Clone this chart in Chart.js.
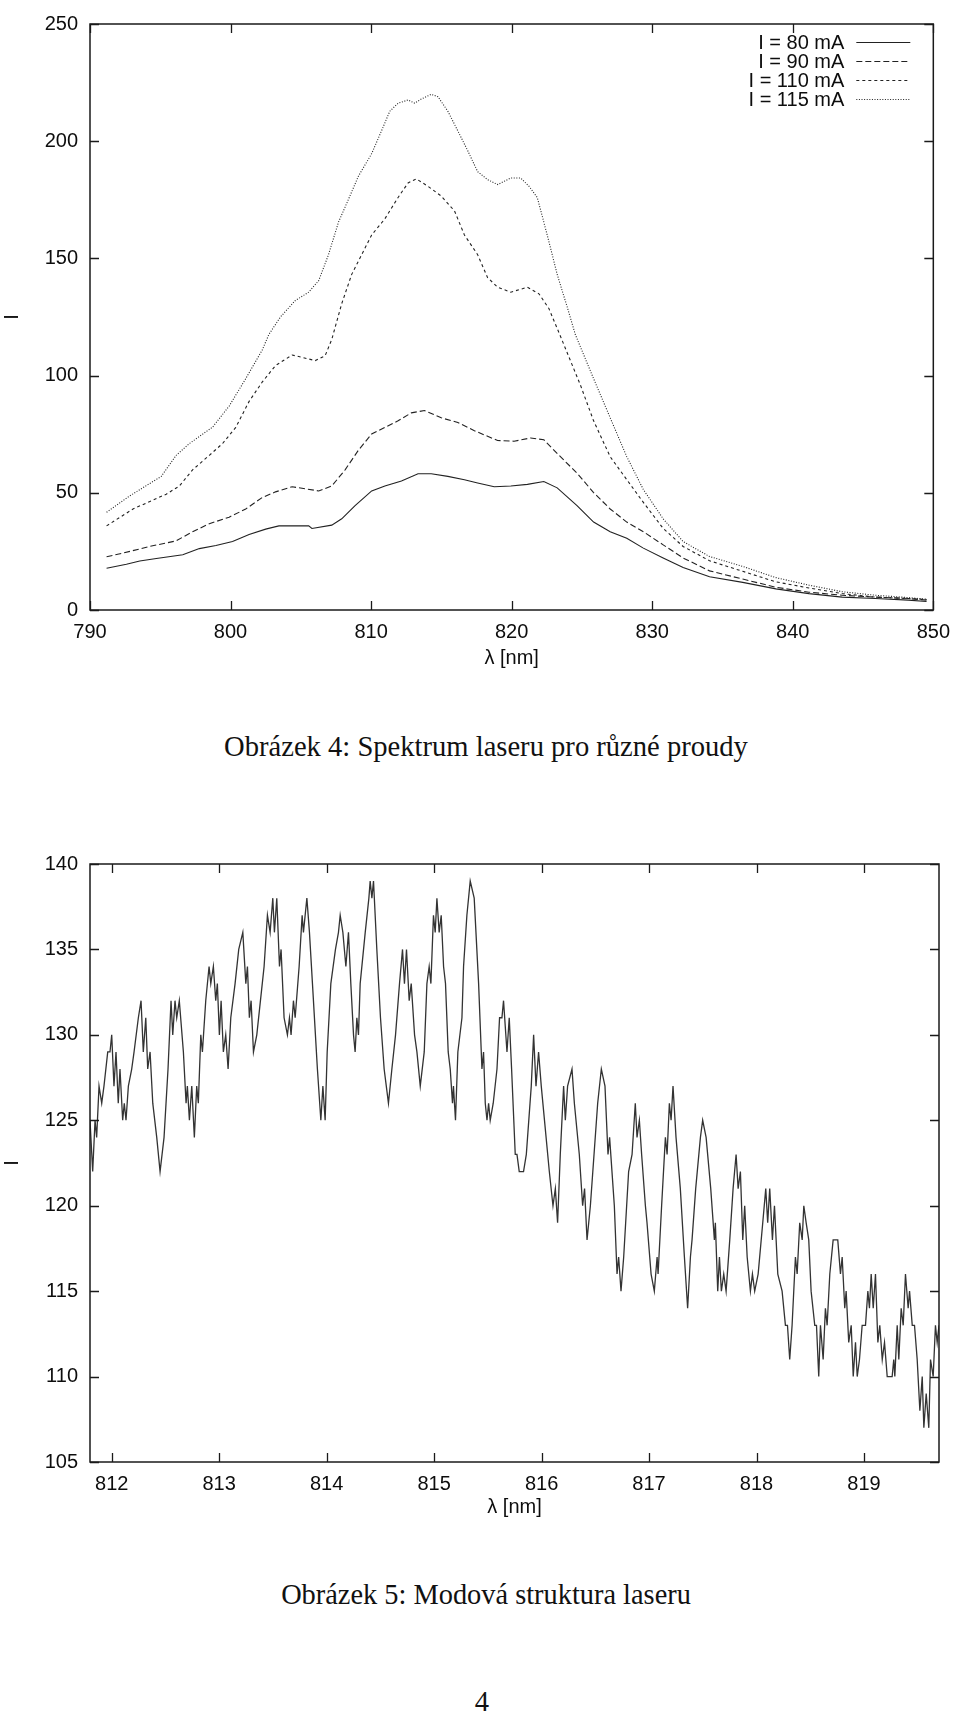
<!DOCTYPE html>
<html>
<head>
<meta charset="utf-8">
<script src="https://cdn.jsdelivr.net/npm/chart.js@4.4.1/dist/chart.umd.min.js"></script>
<style>
html,body{margin:0;padding:0;background:#fff;}
body{width:960px;height:1715px;position:relative;overflow:hidden;}
.cv{position:absolute;left:0;}
#w1{top:0;}
#w2{top:840px;}
.cap{position:absolute;left:0;top:0;white-space:nowrap;line-height:1;font-family:"Liberation Serif","DejaVu Serif",serif;color:#111;}
</style>
</head>
<body>
<div class="cv" id="w1"><canvas id="c1" width="960" height="680"></canvas></div>
<div class="cv" id="w2"><canvas id="c2" width="960" height="690"></canvas></div>
<div class="cap" id="cap4">Obrázek 4: Spektrum laseru pro různé proudy</div>
<div class="cap" id="cap5">Obrázek 5: Modová struktura laseru</div>
<div class="cap" id="pg">4</div>
<script>
// ---------- Figure 4 data: spectrum for different currents ----------
const seriesLabels = ['I = 80 mA', 'I = 90 mA', 'I = 110 mA', 'I = 115 mA'];

const wl80 = [791.18, 792.59, 793.54, 794.72, 796.60, 797.78, 798.96, 800.14, 801.32, 802.50, 803.44, 805.56, 805.79, 807.20, 807.91, 808.86, 810.04, 810.98, 812.16, 813.34, 814.28, 815.46, 816.64, 817.58, 818.76, 819.94, 821.12, 822.29, 823.24, 824.65, 825.83, 827.01, 828.19, 829.37, 830.78, 832.20, 834.08, 836.44, 838.80, 841.15, 843.51, 845.87, 848.22, 849.52];
const i80 = [17.8, 19.5, 20.9, 22, 23.6, 26.2, 27.5, 29.2, 32.2, 34.5, 35.9, 35.9, 34.8, 36.2, 38.9, 44.5, 50.8, 52.9, 55, 58.1, 58.1, 57, 55.6, 54.2, 52.6, 52.9, 53.6, 54.8, 52.1, 44.5, 37.5, 33.4, 30.6, 26.4, 22.2, 18.1, 14.2, 11.8, 9, 7, 5.5, 4.9, 4.2, 3.6];

const wl90 = [791.18, 792.36, 794.24, 796.13, 797.30, 798.49, 799.90, 801.08, 802.26, 803.20, 804.38, 805.32, 806.27, 807.20, 808.15, 809.09, 810.04, 810.98, 811.92, 812.86, 813.80, 814.99, 816.17, 817.35, 819.00, 820.17, 821.35, 822.29, 823.47, 824.65, 825.83, 827.01, 828.19, 829.37, 830.78, 832.20, 834.08, 836.44, 838.80, 841.15, 843.51, 845.87, 848.22, 849.52];
const i90 = [22.7, 24.3, 27.1, 29.5, 33.4, 36.8, 39.6, 43.1, 48, 50.4, 52.6, 51.7, 50.8, 52.9, 59.8, 68.1, 75.1, 77.9, 80.7, 84.1, 85.1, 82, 80, 76.5, 72.3, 72, 73.4, 72.6, 65.4, 58.4, 50.1, 43.1, 37.5, 33.4, 27.8, 22.2, 16.7, 13.2, 9.7, 7.6, 6.3, 5.5, 4.9, 4.2];

const wl110 = [791.18, 793.06, 795.42, 796.36, 797.30, 798.49, 799.43, 800.37, 801.32, 802.26, 803.20, 804.38, 805.08, 806.03, 806.73, 807.20, 807.91, 808.62, 809.33, 810.04, 810.98, 811.92, 812.63, 813.22, 814.04, 814.99, 815.93, 816.64, 817.58, 818.29, 819.00, 819.94, 821.12, 821.94, 822.65, 823.47, 824.89, 825.83, 827.01, 828.19, 829.37, 830.78, 832.20, 834.08, 836.44, 838.80, 841.15, 843.51, 845.87, 848.22, 849.52];
const i110 = [35.9, 43.1, 49.4, 52.9, 59.8, 66, 71, 77.9, 89, 97.3, 104.3, 108.8, 107.8, 106.4, 108.5, 115.4, 130.7, 143.2, 151.6, 160, 166.9, 176, 182.2, 183.9, 180.8, 176.6, 170.3, 160, 151.6, 141.8, 137.7, 135.6, 137.7, 134.9, 128.6, 116.8, 96, 80.7, 65.4, 55.6, 45.9, 34.8, 27.1, 21, 16.5, 12, 9.4, 7, 5.5, 4.9, 4.5];

const wl115 = [791.18, 792.83, 795.07, 796.13, 797.07, 798.72, 799.90, 801.08, 802.26, 802.73, 803.55, 804.60, 805.56, 806.27, 806.97, 807.68, 808.39, 809.09, 810.04, 810.74, 811.33, 811.92, 812.63, 813.10, 813.57, 814.28, 814.75, 815.46, 816.17, 816.87, 817.58, 818.29, 819.00, 819.94, 820.64, 821.23, 821.82, 822.53, 823.24, 823.95, 824.53, 825.83, 827.01, 828.19, 829.37, 830.78, 832.20, 834.08, 836.44, 838.80, 841.15, 843.51, 845.87, 848.22, 849.52];
const i115 = [41.7, 48.7, 57, 66, 71, 78, 87, 98.7, 111, 117.6, 125, 132, 135.6, 140.5, 151.6, 165.5, 175.2, 185, 194.7, 204.4, 212.8, 216.2, 217.6, 216.2, 218, 220, 219, 212.8, 204.4, 196, 187, 183.6, 181.5, 184.3, 184.3, 180.8, 176, 160, 143.2, 129.3, 117.5, 98.7, 82, 65.4, 51.4, 38.9, 29.2, 22.8, 18.6, 13.8, 10.6, 7.8, 6.3, 5.3, 4.6];

const specTicksX = [790, 800, 810, 820, 830, 840, 850];
const specTicksY = [0, 50, 100, 150, 200, 250];

// ---------- Figure 5 data: mode structure ----------
const modeWavelength = [
811.798, 811.823, 811.845, 811.860, 811.882, 811.907, 811.928, 811.963, 811.984, 812.000,
812.021, 812.040, 812.061, 812.077, 812.102, 812.117, 812.133, 812.155, 812.186, 812.208,
812.248, 812.273, 812.294, 812.317, 812.335, 812.357, 812.382, 812.419, 812.450, 812.487,
812.524, 812.552, 812.568, 812.589, 812.605, 812.629, 812.667, 812.692, 812.704, 812.723,
812.745, 812.769, 812.791, 812.806, 812.829, 812.844, 812.875, 812.906, 812.922, 812.946,
812.968, 812.983, 813.002, 813.018, 813.039, 813.061, 813.083, 813.108, 813.148, 813.182,
813.220, 813.248, 813.263, 813.281, 813.297, 813.319, 813.350, 813.384, 813.418, 813.449,
813.474, 813.499, 813.514, 813.536, 813.561, 813.576, 813.604, 813.635, 813.654, 813.669,
813.691, 813.707, 813.744, 813.772, 813.784, 813.816, 813.840, 813.868, 813.914, 813.946,
813.965, 813.986, 814.005, 814.039, 814.082, 814.110, 814.126, 814.151, 814.179, 814.203,
814.225, 814.250, 814.265, 814.281, 814.296, 814.312, 814.359, 814.393, 814.405, 814.421,
814.436, 814.467, 814.501, 814.535, 814.575, 814.607, 814.641, 814.678, 814.706, 814.724,
814.743, 814.768, 814.787, 814.818, 814.840, 814.871, 814.908, 814.933, 814.954, 814.970,
814.994, 815.010, 815.026, 815.047, 815.066, 815.088, 815.106, 815.131, 815.150, 815.171,
815.180, 815.199, 815.221, 815.259, 815.274, 815.305, 815.336, 815.373, 815.414, 815.445,
815.460, 815.476, 815.492, 815.507, 815.522, 815.550, 815.585, 815.609, 815.631, 815.646,
815.678, 815.699, 815.721, 815.755, 815.771, 815.792, 815.832, 815.858, 815.904, 815.926,
815.948, 815.972, 815.997, 816.072, 816.106, 816.128, 816.149, 816.174, 816.205, 816.221,
816.242, 816.283, 816.305, 816.351, 816.382, 816.400, 816.423, 816.454, 816.522, 816.556,
816.590, 816.618, 816.633, 816.677, 816.702, 816.717, 816.739, 816.764, 816.810, 816.842,
816.872, 816.888, 816.910, 816.931, 816.966, 816.981, 817.019, 817.049, 817.075, 817.084,
817.117, 817.152, 817.168, 817.189, 817.205, 817.223, 817.251, 817.291, 817.329, 817.359,
817.385, 817.400, 817.434, 817.478, 817.499, 817.531, 817.574, 817.608, 817.617, 817.639,
817.655, 817.673, 817.695, 817.717, 817.751, 817.782, 817.810, 817.829, 817.850, 817.872,
817.890, 817.913, 817.943, 817.962, 817.983, 818.015, 818.058, 818.086, 818.104, 818.123,
818.148, 818.167, 818.198, 818.238, 818.269, 818.288, 818.309, 818.331, 818.362, 818.378,
818.402, 818.425, 818.440, 818.462, 818.486, 818.508, 818.542, 818.558, 818.579, 818.595,
818.620, 818.641, 818.657, 818.682, 818.713, 818.756, 818.781, 818.797, 818.821, 818.834,
818.858, 818.881, 818.900, 818.921, 818.937, 818.958, 818.983, 819.014, 819.036, 819.051,
819.067, 819.086, 819.107, 819.129, 819.147, 819.170, 819.191, 819.216, 819.262, 819.277,
819.287, 819.309, 819.324, 819.346, 819.365, 819.386, 819.411, 819.424, 819.449, 819.470,
819.495, 819.520, 819.542, 819.557, 819.579, 819.603, 819.619, 819.644, 819.665, 819.681,
819.698];
const modeIntensity = [
125, 122, 125, 124, 127, 126, 127, 129, 129, 130,
127, 129, 126, 128, 125, 126, 125, 127, 128, 129,
131, 132, 129, 131, 128, 129, 126, 124, 122, 124,
128, 132, 130, 132, 131, 132, 129, 126, 127, 125,
127, 124, 127, 126, 130, 129, 132, 134, 133, 134,
132, 133, 130, 132, 129, 130, 128, 131, 133, 135,
136, 133, 134, 131, 132, 129, 130, 132, 134, 137,
136, 138, 136, 138, 134, 135, 131, 130, 131, 130,
132, 131, 134, 137, 136, 138, 136, 133, 128, 125,
127, 125, 129, 133, 135, 136, 137, 136, 134, 136,
133, 130, 129, 131, 130, 133, 136, 138, 139, 138,
139, 135, 131, 128, 126, 128, 130, 133, 135, 133,
135, 132, 133, 130, 129, 127, 129, 133, 134, 133,
137, 136, 138, 136, 137, 134, 133, 129, 128, 126,
127, 125, 129, 131, 134, 137, 139, 138, 133, 128,
129, 126, 125, 126, 125, 126, 128, 131, 131, 132,
129, 131, 128, 123, 123, 122, 122, 123, 127, 130,
127, 129, 127, 122, 120, 121, 119, 123, 127, 125,
127, 128, 126, 123, 120, 121, 118, 120, 126, 128,
127, 123, 124, 120, 116, 117, 115, 117, 122, 123,
126, 124, 125, 123, 120, 119, 116, 115, 117, 116,
120, 124, 123, 126, 125, 127, 124, 121, 117, 114,
117, 118, 121, 124, 125, 124, 121, 118, 119, 115,
117, 115, 116, 115, 118, 121, 123, 121, 122, 118,
120, 117, 115, 116, 115, 116, 119, 121, 119, 121,
118, 120, 116, 115, 113, 113, 111, 113, 117, 116,
119, 118, 120, 119, 118, 115, 113, 113, 110, 113,
111, 114, 113, 116, 118, 118, 116, 117, 114, 115,
112, 113, 110, 112, 110, 111, 113, 113, 115, 114,
116, 114, 116, 112, 113, 111, 112, 110, 110, 111,
110, 113, 111, 114, 113, 116, 114, 115, 113, 113,
111, 108, 110, 107, 109, 107, 111, 110, 113, 112,
113];
const modeTicksX = [812, 813, 814, 815, 816, 817, 818, 819];
const modeTicksY = [105, 110, 115, 120, 125, 130, 135, 140];

// ---------- helpers ----------
const SANS = '"Liberation Sans", Arial, Helvetica, sans-serif';
const INK = '#0d0d0d';
const FS = 20;
const zip = (xs, ys) => xs.map((x, i) => ({x: x, y: ys[i]}));

const framePlugin = {
  id: 'gpFrame',
  afterDatasetsDraw(chart) {
    const {ctx, chartArea: a, scales} = chart;
    ctx.save();
    ctx.strokeStyle = '#1a1a1a';
    ctx.lineWidth = 1.5;
    ctx.strokeRect(a.left, a.top, a.right - a.left, a.bottom - a.top);
    const L = 9;
    ctx.lineWidth = 1.3;
    ctx.beginPath();
    scales.x.ticks.forEach(t => {
      const px = Math.round(scales.x.getPixelForValue(t.value)) + 0.5;
      ctx.moveTo(px, a.bottom); ctx.lineTo(px, a.bottom - L);
      ctx.moveTo(px, a.top); ctx.lineTo(px, a.top + L);
    });
    scales.y.ticks.forEach(t => {
      const py = Math.round(scales.y.getPixelForValue(t.value)) + 0.5;
      ctx.moveTo(a.left, py); ctx.lineTo(a.left + L, py);
      ctx.moveTo(a.right, py); ctx.lineTo(a.right - L, py);
    });
    ctx.stroke();
    ctx.restore();
  }
};

const legendPlugin = {
  id: 'gpLegend',
  afterDatasetsDraw(chart) {
    const {ctx, chartArea: a} = chart;
    ctx.save();
    ctx.font = FS + 'px ' + SANS;
    ctx.fillStyle = INK;
    ctx.textAlign = 'right';
    ctx.textBaseline = 'middle';
    chart.data.datasets.forEach((ds, i) => {
      const y = a.top + 18 + i * 19;
      ctx.fillText(ds.label, a.right - 89, y + 1);
      ctx.strokeStyle = ds.borderColor;
      ctx.lineWidth = ds.borderWidth;
      ctx.setLineDash(ds.borderDash || []);
      ctx.beginPath();
      ctx.moveTo(a.right - 77, Math.round(y) + 0.5);
      ctx.lineTo(a.right - 23, Math.round(y) + 0.5);
      ctx.stroke();
    });
    ctx.restore();
  }
};

function axis(min, max, tickVals, titleText, isX, fixed) {
  const cfg = {
    type: 'linear',
    min: min, max: max,
    afterBuildTicks: s => { s.ticks = tickVals.map(v => ({value: v})); },
    ticks: {
      color: INK, padding: isX ? 10 : 12, maxRotation: 0, autoSkip: false,
      font: {family: SANS, size: FS}
    },
    grid: {display: false, drawTicks: false},
    border: {display: false},
    title: {display: true, text: titleText, color: INK, padding: 0, font: {family: SANS, size: FS}}
  };
  if (isX) cfg.afterFit = s => { s.height = fixed; };
  else cfg.afterFit = s => { s.width = fixed; };
  return cfg;
}

// ---------- Figure 4 chart ----------
new Chart(document.getElementById('c1'), {
  type: 'line',
  data: {
    datasets: [
      {label: seriesLabels[0], data: zip(wl80, i80), borderColor: '#222', borderWidth: 1.1, borderDash: []},
      {label: seriesLabels[1], data: zip(wl90, i90), borderColor: '#222', borderWidth: 1.1, borderDash: [6, 3]},
      {label: seriesLabels[2], data: zip(wl110, i110), borderColor: '#222', borderWidth: 1.1, borderDash: [3, 3]},
      {label: seriesLabels[3], data: zip(wl115, i115), borderColor: '#222', borderWidth: 1.1, borderDash: [1, 1.6]}
    ]
  },
  options: {
    responsive: false, animation: false, devicePixelRatio: 1,
    elements: {point: {radius: 0}, line: {tension: 0}},
    layout: {padding: {left: 0, right: 21, top: 11, bottom: 10}},
    plugins: {legend: {display: false}, tooltip: {enabled: false}},
    scales: {
      x: axis(790, 850, specTicksX, 'λ [nm]', true, 60),
      y: axis(0, 250, specTicksY, 'I', false, 90)
    }
  },
  plugins: [framePlugin, legendPlugin]
});

// ---------- Figure 5 chart ----------
new Chart(document.getElementById('c2'), {
  type: 'line',
  data: {
    datasets: [
      {label: 'I', data: zip(modeWavelength, modeIntensity), borderColor: '#333', borderWidth: 1.3}
    ]
  },
  options: {
    responsive: false, animation: false, devicePixelRatio: 1,
    elements: {point: {radius: 0}, line: {tension: 0}},
    layout: {padding: {left: 0, right: 21, top: 21, bottom: 11}},
    plugins: {legend: {display: false}, tooltip: {enabled: false}},
    scales: {
      x: axis(811.798, 819.698, modeTicksX, 'λ [nm]', true, 57),
      y: axis(105, 140, modeTicksY, 'I', false, 90)
    }
  },
  plugins: [framePlugin]
});

// ---------- captions (LaTeX-like) ----------
function placeText(id, centerX, baseline, targetWidth, size) {
  const el = document.getElementById(id);
  const m = document.createElement('canvas').getContext('2d');
  let s = size;
  if (targetWidth) {
    m.font = '100px "Liberation Serif"';
    s = 100 * targetWidth / m.measureText(el.textContent).width;
  }
  el.style.fontSize = s + 'px';
  const w = el.getBoundingClientRect().width;
  el.style.left = (centerX - w / 2) + 'px';
  el.style.top = (baseline - 0.8375 * s) + 'px';
  return s;
}
const capSize = placeText('cap4', 486, 757, 524);
placeText('cap5', 486, 1605, 410);
placeText('pg', 482, 1712, 0, capSize);
</script>
</body>
</html>
